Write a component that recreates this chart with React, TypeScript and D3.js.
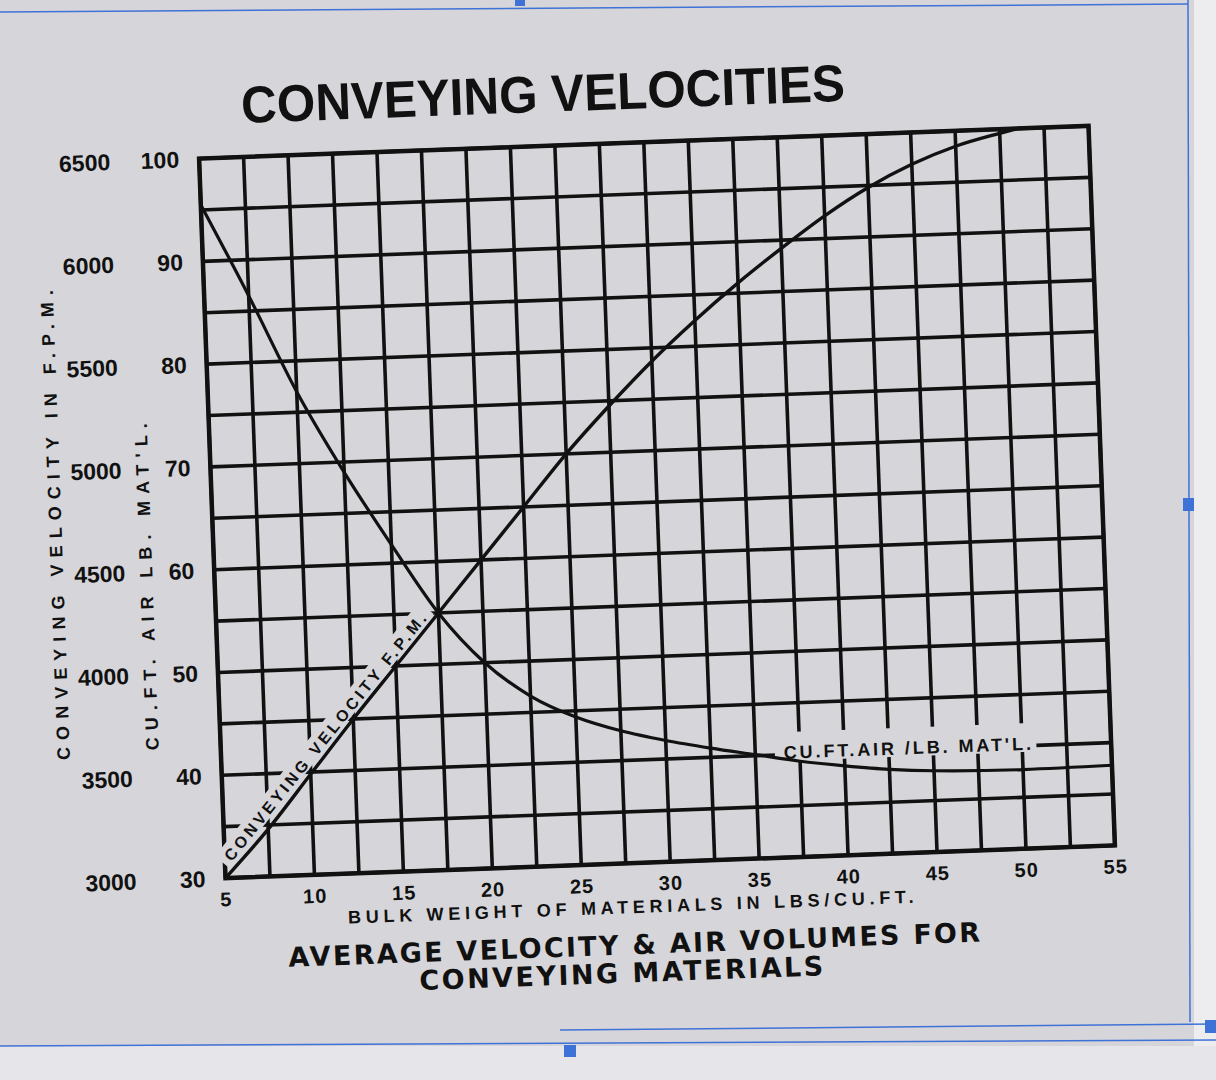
import * as d3 from "d3";

// axis ticks
const xTicks = [5, 10, 15, 20, 25, 30, 35, 40, 45, 50, 55];
const fpmTicks = [3000, 3500, 4000, 4500, 5000, 5500, 6000, 6500];
const airTicks = [30, 40, 50, 60, 70, 80, 90, 100];

// conveying velocity in F.P.M. against bulk weight (lbs/cu.ft.)
const velocityWeight = [5, 7.5, 10, 12.5, 15, 17.5, 20, 22.5, 25, 27.5, 30, 32.5, 35, 37.5, 40, 42.5, 45, 47.5, 50, 51];
const velocityFpm = [3000, 3230, 3490, 3750, 4000, 4250, 4500, 4750, 5000, 5225, 5435, 5625, 5800, 5960, 6110, 6240, 6345, 6425, 6480, 6500];

// cu.ft. air per lb. of material
const airWeight = [5, 7.5, 10, 12.5, 15, 17.5, 20, 22.5, 25, 27.5, 30, 32.5, 35, 37.5, 40, 42.5, 45, 50, 55];
const airCuFt = [95.5, 86.5, 77, 69, 61.8, 55, 50, 46.6, 44.4, 42.9, 41.8, 40.9, 40.1, 39.3, 38.7, 38.2, 37.9, 37.7, 37.8];

const W = 1216;
const H = 1080;
const plot = { left: 212, right: 1102, top: 142, bottom: 862 };
const paper = "#d6d6da";
const ink = "#111";
const font = "'Liberation Sans', Arial, sans-serif";
const blockFont = "'DejaVu Sans', 'Liberation Sans', sans-serif";

export default function App() {
  const x = d3.scaleLinear().domain([5, 55]).range([plot.left, plot.right]);
  const yAir = d3.scaleLinear().domain([30, 100]).range([plot.bottom, plot.top]);
  const yFpm = d3.scaleLinear().domain([3000, 6500]).range([plot.bottom, plot.top]);

  const vLines = d3.range(5, 55.01, 2.5);
  const hLines = d3.range(30, 100.01, 5);

  const velocityPath = d3
    .line<number>()
    .x((_, i) => x(velocityWeight[i]))
    .y((d) => yFpm(d))
    .curve(d3.curveMonotoneX)(velocityFpm);

  const airPath = d3
    .line<number>()
    .x((_, i) => x(airWeight[i]))
    .y((d) => yAir(d))
    .curve(d3.curveMonotoneX)(airCuFt);

  // label along the straight start of the velocity line
  const p0 = [x(velocityWeight[0]), yFpm(velocityFpm[0])];
  const p1 = [x(velocityWeight[5]), yFpm(velocityFpm[5])];
  const angle = (Math.atan2(p1[1] - p0[1], p1[0] - p0[0]) * 180) / Math.PI;
  const along = d3.scaleLinear().domain([velocityWeight[0], velocityWeight[5]]);
  const startW = 5.6;
  const sx = along.range([p0[0], p1[0]])(startW);
  const sy = along.range([p0[1], p1[1]])(startW);

  return (
    <svg
      width={W}
      height={H}
      style={{ position: "absolute", left: 0, top: 0, display: "block" }}
    >
      <rect width={W} height={H} fill={paper} />
      <rect x={1194} y={0} width={22} height={H} fill="#ededf0" />
      <rect x={0} y={1046} width={W} height={34} fill="#e6e6ea" />

      {/* screen frame lines */}
      <g stroke="#3f72d6" strokeWidth={1.5} fill="none">
        <line x1={0} y1={12} x2={1188} y2={4} />
        <line x1={1188} y1={0} x2={1190} y2={1022} />
        <line x1={0} y1={1046} x2={1216} y2={1040} />
        <line x1={560} y1={1030} x2={1216} y2={1024} />
      </g>
      <g fill="#3f72d6">
        <rect x={515} y={0} width={10} height={6} />
        <rect x={1183} y={498} width={11} height={13} />
        <rect x={1205} y={1020} width={11} height={13} />
        <rect x={564} y={1045} width={12} height={12} />
      </g>

      <g transform="rotate(-2.1, 657, 502)">
        <text
          x={558}
          y={108}
          textAnchor="middle"
          fontFamily={font}
          fontWeight="bold"
          fontSize={52}
          textLength={604}
          lengthAdjust="spacingAndGlyphs"
          fill={ink}
        >
          CONVEYING VELOCITIES
        </text>

        {/* grid */}
        <g stroke={ink} strokeWidth={3.6}>
          {vLines.map((v) => (
            <line key={"v" + v} x1={x(v)} x2={x(v)} y1={plot.top} y2={plot.bottom} />
          ))}
          {hLines.map((h) => (
            <line key={"h" + h} x1={plot.left} x2={plot.right} y1={yAir(h)} y2={yAir(h)} />
          ))}
        </g>
        <rect
          x={plot.left}
          y={plot.top}
          width={plot.right - plot.left}
          height={plot.bottom - plot.top}
          fill="none"
          stroke={ink}
          strokeWidth={4.5}
        />

        {/* gaps cut in the grid for the curve labels */}
        <rect
          x={x(36.1)}
          y={yAir(42.2)}
          width={x(50.8) - x(36.1)}
          height={yAir(39.4) - yAir(42.2)}
          fill={paper}
        />
        <g transform={`translate(${sx},${sy}) rotate(${angle})`}>
          <rect x={-6} y={-22} width={326} height={19} fill={paper} />
        </g>

        {/* curves */}
        <path d={airPath ?? ""} fill="none" stroke={ink} strokeWidth={3.2} />
        <path d={velocityPath ?? ""} fill="none" stroke={ink} strokeWidth={3.4} />

        {/* curve labels */}
        <g transform={`translate(${sx},${sy}) rotate(${angle})`}>
          <text
            x={0}
            y={-5}
            fontFamily={font}
            fontWeight="bold"
            fontSize={16}
            textLength={312}
            lengthAdjust="spacing"
            fill={ink}
          >
            CONVEYING VELOCITY F.P.M.
          </text>
        </g>
        <text
          x={x(36.6)}
          y={yAir(39.6)}
          fontFamily={font}
          fontWeight="bold"
          fontSize={18}
          textLength={x(50.5) - x(36.6)}
          lengthAdjust="spacing"
          fill={ink}
        >
          CU.FT.AIR /LB. MAT'L.
        </text>

        {/* left tick labels */}
        <g fontFamily={font} fontWeight="bold" fontSize={23} fill={ink} textAnchor="end">
          {fpmTicks.map((t) => (
            <text key={"f" + t} x={plot.left - 89} y={yFpm(t)} dy="0.36em">
              {t}
            </text>
          ))}
          {airTicks.map((t) => (
            <text key={"a" + t} x={plot.left - 20} y={yAir(t)} dy="0.36em">
              {t}
            </text>
          ))}
        </g>

        {/* bottom tick labels */}
        <g fontFamily={font} fontWeight="bold" fontSize={20} fill={ink} textAnchor="middle">
          {xTicks.map((t) => (
            <text key={"x" + t} x={x(t)} y={plot.bottom + 21} dy="0.36em" letterSpacing={1}>
              {t}
            </text>
          ))}
        </g>

        {/* axis titles */}
        <text
          transform="translate(61, 503) rotate(-90)"
          textAnchor="middle"
          fontFamily={font}
          fontWeight="bold"
          fontSize={18}
          textLength={470}
          lengthAdjust="spacing"
          fill={ink}
        >
          CONVEYING VELOCITY IN F.P.M.
        </text>
        <text
          transform="translate(150, 568) rotate(-90)"
          textAnchor="middle"
          fontFamily={font}
          fontWeight="bold"
          fontSize={18}
          textLength={327}
          lengthAdjust="spacing"
          fill={ink}
        >
          CU.FT. AIR  LB. MAT'L.
        </text>
        <text
          x={616}
          y={912}
          textAnchor="middle"
          fontFamily={font}
          fontWeight="bold"
          fontSize={18}
          textLength={566}
          lengthAdjust="spacing"
          fill={ink}
        >
          BULK WEIGHT OF MATERIALS IN LBS/CU.FT.
        </text>
        <text
          x={618}
          y={953}
          textAnchor="middle"
          fontFamily={blockFont}
          fontWeight="bold"
          fontSize={27}
          textLength={692}
          lengthAdjust="spacing"
          fill={ink}
        >
          AVERAGE VELOCITY &amp; AIR VOLUMES FOR
        </text>
        <text
          x={604}
          y={981}
          textAnchor="middle"
          fontFamily={blockFont}
          fontWeight="bold"
          fontSize={27}
          textLength={404}
          lengthAdjust="spacing"
          fill={ink}
        >
          CONVEYING MATERIALS
        </text>
      </g>
    </svg>
  );
}
